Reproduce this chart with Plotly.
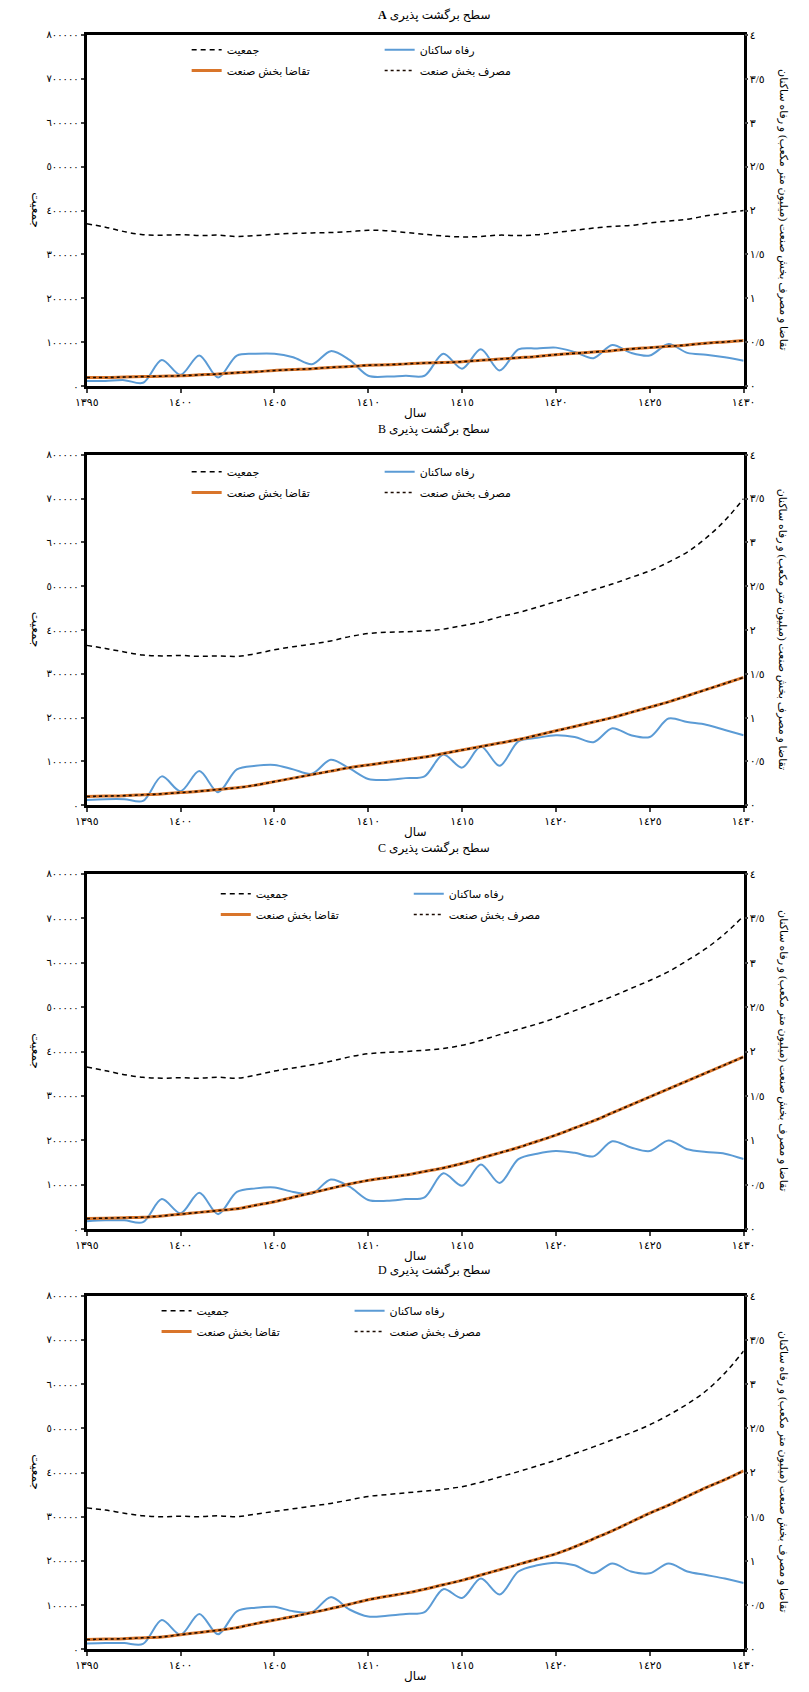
import plotly.graph_objects as go

# ---------------- data ----------------
years = list(range(1395, 1431))
panel_letters = ["A", "B", "C", "D"]

pop_A = [370000, 362000, 352000, 345000, 344000, 345000, 343000, 344000, 341000, 343000,
         346000, 348000, 349000, 350000, 352000, 355000, 354000, 350000, 346000, 342000,
         340000, 341000, 344000, 343000, 345000, 350000, 355000, 360000, 364000, 366000,
         372000, 376000, 380000, 388000, 394000, 400000]
welfare_A = [0.06, 0.06, 0.07, 0.04, 0.30, 0.13, 0.35, 0.10, 0.35, 0.37,
             0.37, 0.33, 0.25, 0.40, 0.30, 0.12, 0.11, 0.12, 0.12, 0.37,
             0.20, 0.42, 0.18, 0.42, 0.43, 0.44, 0.39, 0.32, 0.47, 0.38,
             0.35, 0.48, 0.38, 0.36, 0.33, 0.29]
demand_A = [0.10, 0.10, 0.105, 0.11, 0.115, 0.12, 0.13, 0.14, 0.155, 0.165,
            0.18, 0.19, 0.20, 0.215, 0.225, 0.24, 0.245, 0.255, 0.265, 0.27,
            0.28, 0.295, 0.31, 0.325, 0.34, 0.36, 0.375, 0.39, 0.405, 0.425,
            0.44, 0.455, 0.47, 0.49, 0.505, 0.52]
consumption_A = [0.10, 0.10, 0.105, 0.11, 0.115, 0.12, 0.13, 0.14, 0.155, 0.165,
                 0.18, 0.19, 0.20, 0.215, 0.225, 0.24, 0.245, 0.255, 0.265, 0.27,
                 0.28, 0.295, 0.31, 0.325, 0.34, 0.36, 0.375, 0.39, 0.405, 0.425,
                 0.44, 0.455, 0.47, 0.49, 0.505, 0.52]

pop_B = [365000, 358000, 350000, 343000, 341000, 342000, 340000, 341000, 340000, 346000,
         355000, 362000, 368000, 375000, 385000, 392000, 395000, 396000, 398000, 402000,
         410000, 418000, 430000, 440000, 452000, 465000, 478000, 492000, 505000, 520000,
         535000, 555000, 578000, 610000, 650000, 700000]
welfare_B = [0.06, 0.07, 0.07, 0.05, 0.33, 0.16, 0.39, 0.15, 0.41, 0.45,
             0.46, 0.41, 0.36, 0.52, 0.42, 0.30, 0.29, 0.31, 0.33, 0.58,
             0.43, 0.67, 0.45, 0.73, 0.77, 0.80, 0.78, 0.72, 0.88, 0.80,
             0.78, 0.99, 0.95, 0.92, 0.86, 0.80]
demand_B = [0.10, 0.105, 0.11, 0.12, 0.13, 0.145, 0.16, 0.18, 0.20, 0.23,
            0.27, 0.31, 0.35, 0.39, 0.43, 0.46, 0.49, 0.52, 0.55, 0.59,
            0.63, 0.67, 0.71, 0.75, 0.80, 0.85, 0.90, 0.95, 1.00, 1.06,
            1.12, 1.18, 1.25, 1.32, 1.39, 1.46]
consumption_B = [0.10, 0.105, 0.11, 0.12, 0.13, 0.145, 0.16, 0.18, 0.20, 0.23,
                 0.27, 0.31, 0.35, 0.39, 0.43, 0.46, 0.49, 0.52, 0.55, 0.59,
                 0.63, 0.67, 0.71, 0.75, 0.80, 0.85, 0.90, 0.95, 1.00, 1.06,
                 1.12, 1.18, 1.25, 1.32, 1.39, 1.46]

pop_C = [365000, 357000, 348000, 342000, 340000, 341000, 340000, 342000, 340000, 347000,
         356000, 363000, 370000, 378000, 388000, 395000, 398000, 400000, 403000, 407000,
         414000, 425000, 438000, 450000, 462000, 476000, 492000, 508000, 524000, 542000,
         560000, 580000, 605000, 632000, 665000, 705000]
welfare_C = [0.09, 0.10, 0.10, 0.08, 0.34, 0.18, 0.41, 0.17, 0.42, 0.46,
             0.47, 0.42, 0.40, 0.56, 0.48, 0.33, 0.32, 0.34, 0.36, 0.63,
             0.49, 0.73, 0.52, 0.79, 0.85, 0.88, 0.86, 0.82, 0.99, 0.92,
             0.88, 1.00, 0.90, 0.87, 0.85, 0.79]
demand_C = [0.12, 0.125, 0.13, 0.135, 0.15, 0.17, 0.19, 0.21, 0.23, 0.27,
            0.31, 0.36, 0.41, 0.46, 0.51, 0.55, 0.58, 0.61, 0.65, 0.69,
            0.74, 0.80, 0.86, 0.92, 0.99, 1.06, 1.14, 1.22, 1.31, 1.40,
            1.49, 1.58, 1.67, 1.76, 1.85, 1.94]
consumption_C = [0.12, 0.125, 0.13, 0.135, 0.15, 0.17, 0.19, 0.21, 0.23, 0.27,
                 0.31, 0.36, 0.41, 0.46, 0.51, 0.55, 0.58, 0.61, 0.65, 0.69,
                 0.74, 0.80, 0.86, 0.92, 0.99, 1.06, 1.14, 1.22, 1.31, 1.40,
                 1.49, 1.58, 1.67, 1.76, 1.85, 1.94]

pop_D = [320000, 315000, 308000, 302000, 300000, 301000, 300000, 302000, 300000, 306000,
         312000, 318000, 324000, 330000, 338000, 346000, 350000, 354000, 358000, 362000,
         368000, 378000, 390000, 402000, 415000, 428000, 443000, 458000, 474000, 490000,
         508000, 530000, 555000, 585000, 625000, 675000]
welfare_D = [0.065, 0.07, 0.07, 0.06, 0.33, 0.165, 0.40, 0.17, 0.43, 0.47,
             0.48, 0.43, 0.42, 0.59, 0.45, 0.37, 0.38, 0.40, 0.42, 0.68,
             0.58, 0.80, 0.62, 0.88, 0.95, 0.98, 0.95, 0.86, 0.97, 0.88,
             0.86, 0.97, 0.88, 0.84, 0.80, 0.75]
demand_D = [0.11, 0.115, 0.12, 0.13, 0.14, 0.165, 0.19, 0.215, 0.245, 0.29,
            0.33, 0.37, 0.415, 0.46, 0.51, 0.56, 0.60, 0.635, 0.68, 0.73,
            0.78, 0.84, 0.90, 0.96, 1.02, 1.08, 1.16, 1.25, 1.34, 1.44,
            1.54, 1.63, 1.73, 1.83, 1.92, 2.02]
consumption_D = [0.11, 0.115, 0.12, 0.13, 0.14, 0.165, 0.19, 0.215, 0.245, 0.29,
                 0.33, 0.37, 0.415, 0.46, 0.51, 0.56, 0.60, 0.635, 0.68, 0.73,
                 0.78, 0.84, 0.90, 0.96, 1.02, 1.08, 1.16, 1.25, 1.34, 1.44,
                 1.54, 1.63, 1.73, 1.83, 1.92, 2.02]

pops = [pop_A, pop_B, pop_C, pop_D]
welfares = [welfare_A, welfare_B, welfare_C, welfare_D]
demands = [demand_A, demand_B, demand_C, demand_D]
consumptions = [consumption_A, consumption_B, consumption_C, consumption_D]

name_pop = "جمعیت"
name_welfare = "رفاه ساکنان"
name_demand = "تقاضا بخش صنعت"
name_consumption = "مصرف بخش صنعت"
title_text = "سطح برگشت پذیری"
x_title = "سال"
left_title = "جمعیت"
right_title = "تقاضا و مصرف بخش صنعت (میلیون متر مکعب) و رفاه ساکنان"

x_tickvals = [1395, 1400, 1405, 1410, 1415, 1420, 1425, 1430]
x_ticktext = ["١٣٩٥", "١٤٠٠", "١٤٠٥", "١٤١٠", "١٤١٥", "١٤٢٠", "١٤٢٥", "١٤٣٠"]
left_tickvals = [0, 100000, 200000, 300000, 400000, 500000, 600000, 700000, 800000]
left_ticktext = ["٠", "١٠٠٠٠٠", "٢٠٠٠٠٠", "٣٠٠٠٠٠", "٤٠٠٠٠٠", "٥٠٠٠٠٠", "٦٠٠٠٠٠", "٧٠٠٠٠٠", "٨٠٠٠٠٠"]
right_tickvals = [0, 0.5, 1, 1.5, 2, 2.5, 3, 3.5, 4]
right_ticktext = ["٠", "٠/٥", "١", "١/٥", "٢", "٢/٥", "٣", "٣/٥", "٤"]

# ---------------- layout geometry (pixels) ----------------
W, H = 809, 1692
tops = [29, 452, 874, 1299]
bottoms = [383, 805, 1232, 1655]
legend_col1 = [186, 186, 216, 155]
legend_row1 = [15, 17, 20, 15]
title_gap = [19, 25, 25, 25]
xtitle_gap = 27
left_px, right_px = 77, 754

FONT = "Liberation Serif, DejaVu Sans, serif"
BLUE = "#5B9BD5"
ORANGE = "#D9752A"

fig = go.Figure()
layout = dict(
    width=W, height=H,
    margin=dict(l=0, r=0, t=0, b=0),
    paper_bgcolor="white", plot_bgcolor="white",
    font=dict(family=FONT, color="black", size=11),
    showlegend=True,
)
annotations = []

for i in range(4):
    xa = "x" if i == 0 else f"x{i+1}"
    ya = "y" if i == 0 else f"y{2*i+1}"
    yb = f"y{2*i+2}"
    lg1 = "legend" if i == 0 else f"legend{2*i+1}"
    lg2 = f"legend{2*i+2}"

    fig.add_trace(go.Scatter(x=years, y=pops[i], xaxis=xa, yaxis=ya, name=name_pop,
                             mode="lines", line=dict(color="black", width=1.5, dash="5px,4px", shape="spline"),
                             legend=lg1))
    fig.add_trace(go.Scatter(x=years, y=welfares[i], xaxis=xa, yaxis=yb, name=name_welfare,
                             mode="lines", line=dict(color=BLUE, width=2, shape="spline", smoothing=0.9),
                             legend=lg1))
    fig.add_trace(go.Scatter(x=years, y=demands[i], xaxis=xa, yaxis=yb, name=name_demand,
                             mode="lines", line=dict(color=ORANGE, width=3, shape="spline"),
                             legend=lg2))
    fig.add_trace(go.Scatter(x=years, y=consumptions[i], xaxis=xa, yaxis=yb, name=name_consumption,
                             mode="lines", line=dict(color="#1a0a00", width=1.6, dash="dot", shape="spline"),
                             legend=lg2))

    ydom = [1 - bottoms[i] / H, 1 - tops[i] / H]
    xkey = "xaxis" if i == 0 else f"xaxis{i+1}"
    ykey = "yaxis" if i == 0 else f"yaxis{2*i+1}"
    ykey2 = f"yaxis{2*i+2}"
    layout[xkey] = dict(domain=[left_px / W, right_px / W], anchor=ya, range=[1395, 1430],
                        tickvals=x_tickvals, ticktext=x_ticktext, ticks="outside", ticklen=4,
                        tickwidth=2, showline=True, linewidth=3, linecolor="black", mirror=True,
                        showgrid=False, zeroline=False, tickfont=dict(size=11))
    layout[ykey] = dict(domain=ydom, anchor=xa, range=[0, 800000], tickvals=left_tickvals,
                        ticktext=left_ticktext, ticks="outside", ticklen=3, tickwidth=2,
                        showline=True, linewidth=3, linecolor="black", mirror=True,
                        showgrid=False, zeroline=False, tickfont=dict(size=10))
    layout[ykey2] = dict(domain=ydom, anchor=xa, overlaying=ya, side="right", range=[0, 4],
                         tickvals=right_tickvals, ticktext=right_ticktext, ticks="outside",
                         ticklen=3, tickwidth=2, showline=False, showgrid=False, zeroline=False,
                         tickfont=dict(size=11))

    row1_y = 1 - (tops[i] + legend_row1[i]) / H
    row2_y = 1 - (tops[i] + legend_row1[i] + 21) / H
    for lg, yy in ((lg1, row1_y), (lg2, row2_y)):
        layout[lg] = dict(orientation="h", x=(legend_col1[i] - 6) / W, xanchor="left",
                          y=yy, yanchor="middle", entrywidth=148, entrywidthmode="pixels",
                          bgcolor="rgba(0,0,0,0)", font=dict(size=11, family=FONT),
                          itemwidth=30, traceorder="normal")

    letter = f"<b>{panel_letters[i]}</b>" if i == 0 else panel_letters[i]
    annotations.append(dict(x=435 / W, y=1 - (tops[i] - title_gap[i]) / H, xref="paper", yref="paper",
                            text=f"{letter} {title_text}", showarrow=False,
                            xanchor="center", yanchor="middle", font=dict(size=12)))
    annotations.append(dict(x=415 / W, y=1 - (bottoms[i] + xtitle_gap) / H, xref="paper", yref="paper",
                            text=x_title, showarrow=False, xanchor="center", yanchor="middle",
                            font=dict(size=12)))
    mid = (tops[i] + bottoms[i]) / 2
    annotations.append(dict(x=25 / W, y=1 - mid / H, xref="paper", yref="paper",
                            text=left_title, showarrow=False, textangle=90,
                            xanchor="center", yanchor="middle", font=dict(size=12)))
    annotations.append(dict(x=795 / W, y=1 - mid / H, xref="paper", yref="paper",
                            text=right_title, showarrow=False, textangle=90,
                            xanchor="center", yanchor="middle", font=dict(size=11)))

layout["annotations"] = annotations
fig.update_layout(**layout)
fig.write_html("out.html")
